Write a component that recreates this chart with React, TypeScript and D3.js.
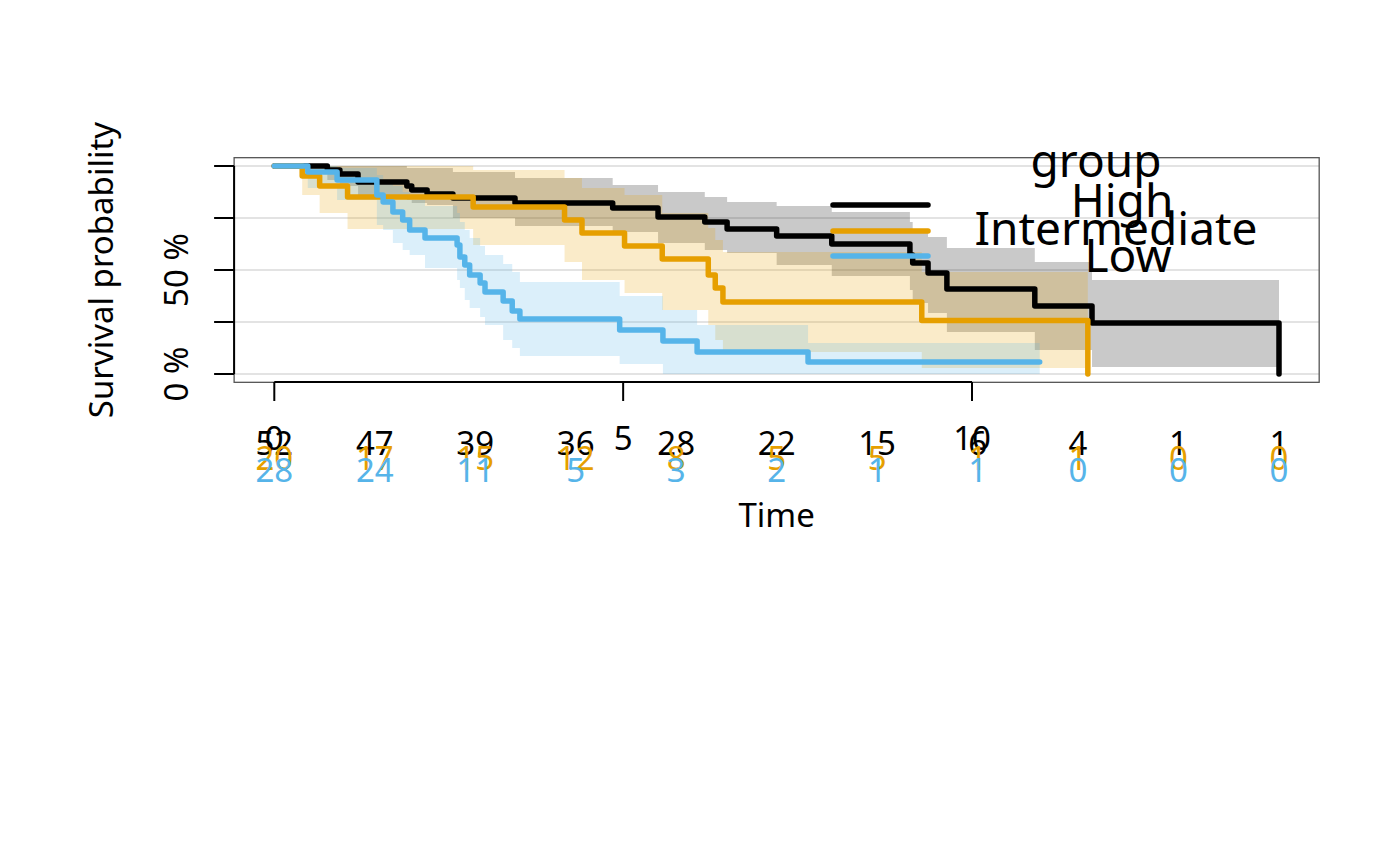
import { useEffect, useRef } from "react";
import * as d3 from "d3";

const groupNames = ["High", "Intermediate", "Low"];
const groupColors = ["#000000", "#E69F00", "#56B4E9"];

const highTime = [0, 0.76, 0.94, 1.2, 1.9, 1.97, 2.19, 2.56, 3.45, 4.85, 5.5, 6.17, 6.49, 7.2, 7.99, 9.11, 9.15, 9.37, 9.64, 10.9, 11.72, 14.4];
const highSurv = [1, 0.981, 0.962, 0.923, 0.904, 0.885, 0.865, 0.846, 0.822, 0.798, 0.755, 0.731, 0.697, 0.663, 0.625, 0.572, 0.534, 0.486, 0.409, 0.327, 0.245, 0];
const highUpper = [1, 1, 1, 1, 0.99, 0.99, 0.99, 0.971, 0.942, 0.909, 0.875, 0.851, 0.827, 0.808, 0.779, 0.731, 0.692, 0.659, 0.606, 0.538, 0.452, 0.452];
const highLower = [1, 0.933, 0.904, 0.861, 0.837, 0.822, 0.812, 0.75, 0.712, 0.683, 0.63, 0.596, 0.582, 0.524, 0.471, 0.404, 0.341, 0.293, 0.202, 0.115, 0.034, 0.034];

const midTime = [0, 0.4, 0.65, 1.05, 2.85, 4.16, 4.41, 5.02, 5.56, 6.22, 6.32, 6.43, 9.28, 11.66];
const midSurv = [1, 0.952, 0.904, 0.851, 0.803, 0.74, 0.678, 0.615, 0.553, 0.476, 0.413, 0.346, 0.257, 0];
const midUpper = [1, 1, 1, 1, 0.981, 0.942, 0.894, 0.861, 0.774, 0.702, 0.644, 0.587, 0.49, 0.49];
const midLower = [1, 0.861, 0.774, 0.697, 0.62, 0.538, 0.452, 0.389, 0.308, 0.236, 0.163, 0.106, 0.029, 0.029];

const lowTime = [0, 0.48, 0.9, 1.47, 1.56, 1.7, 1.84, 1.94, 2.16, 2.62, 2.66, 2.73, 2.8, 2.95, 3.02, 3.28, 3.41, 3.52, 4.95, 5.57, 6.06, 7.65, 10.97];
const lowSurv = [1, 0.971, 0.933, 0.861, 0.827, 0.779, 0.74, 0.692, 0.654, 0.62, 0.563, 0.524, 0.476, 0.438, 0.394, 0.351, 0.303, 0.264, 0.212, 0.159, 0.106, 0.058, 0.058];
const lowUpper = [1, 1, 0.99, 0.957, 0.933, 0.904, 0.875, 0.837, 0.808, 0.774, 0.731, 0.692, 0.654, 0.615, 0.572, 0.529, 0.49, 0.442, 0.375, 0.308, 0.236, 0.149, 0.149];
const lowLower = [1, 0.894, 0.837, 0.716, 0.692, 0.63, 0.596, 0.572, 0.51, 0.452, 0.413, 0.356, 0.317, 0.274, 0.236, 0.163, 0.125, 0.087, 0.048, 0, 0, 0, 0];

const riskTimes = [0, 1.44, 2.88, 4.32, 5.76, 7.2, 8.64, 10.08, 11.52, 12.96, 14.4];
const riskHigh = [52, 47, 39, 36, 28, 22, 15, 6, 4, 1, 1];
const riskMid = [20, 17, 15, 12, 8, 5, 5, 1, 1, 0, 0];
const riskLow = [28, 24, 11, 5, 3, 2, 1, 1, 0, 0, 0];

const xTicks = [0, 5, 10];
const yTicks = [0, 0.25, 0.5, 0.75, 1];
const yLabelValues = [0, 0.5];
const yLabelText = ["0 %", "50 %"];

const FONT = "'Noto Sans', sans-serif";

const App = () => {
  const ref = useRef<SVGSVGElement | null>(null);

  useEffect(() => {
    if (!ref.current) return;
    const svg = d3.select(ref.current);
    svg.selectAll("*").remove();

    const x = d3.scaleLinear().domain([0, 14.4]).range([274.3, 1279]);
    const y = d3.scaleLinear().domain([0, 1]).range([374, 166]);

    const left = x(-0.576);
    const right = x(14.976);
    const top = y(1.04);
    const bottom = y(-0.04);

    svg.append("rect").attr("width", 1400).attr("height", 866).attr("fill", "white");

    // grid
    svg
      .append("g")
      .selectAll("line")
      .data(yTicks)
      .join("line")
      .attr("x1", left)
      .attr("x2", right)
      .attr("y1", (d) => y(d))
      .attr("y2", (d) => y(d))
      .attr("stroke", "#e3e3e3")
      .attr("stroke-width", 2);

    const groups = [
      { time: highTime, surv: highSurv, upper: highUpper, lower: highLower, risk: riskHigh },
      { time: midTime, surv: midSurv, upper: midUpper, lower: midLower, risk: riskMid },
      { time: lowTime, surv: lowSurv, upper: lowUpper, lower: lowLower, risk: riskLow },
    ];

    // confidence bands
    groups.forEach((g, gi) => {
      const pts = g.time.map((t, i) => ({ t, lo: g.lower[i], hi: g.upper[i] }));
      const area = d3
        .area<{ t: number; lo: number; hi: number }>()
        .curve(d3.curveStepAfter)
        .x((d) => x(d.t))
        .y0((d) => y(d.lo))
        .y1((d) => y(d.hi));
      svg
        .append("path")
        .attr("d", area(pts))
        .attr("fill", groupColors[gi])
        .attr("fill-opacity", 0.21);
    });

    // survival curves
    groups.forEach((g, gi) => {
      const pts = g.time.map((t, i) => [t, g.surv[i]] as [number, number]);
      const line = d3
        .line<[number, number]>()
        .curve(d3.curveStepAfter)
        .x((d) => x(d[0]))
        .y((d) => y(d[1]));
      svg
        .append("path")
        .attr("d", line(pts))
        .attr("fill", "none")
        .attr("stroke", groupColors[gi])
        .attr("stroke-width", 5.5)
        .attr("stroke-linejoin", "round")
        .attr("stroke-linecap", "round");
    });

    // box
    svg
      .append("rect")
      .attr("x", left)
      .attr("y", top)
      .attr("width", right - left)
      .attr("height", bottom - top)
      .attr("fill", "none")
      .attr("stroke", "#555")
      .attr("stroke-width", 1.3);

    // y axis
    const ya = svg.append("g");
    ya.append("line")
      .attr("x1", left)
      .attr("x2", left)
      .attr("y1", y(0))
      .attr("y2", y(1))
      .attr("stroke", "black")
      .attr("stroke-width", 2);
    ya.selectAll(".tick")
      .data(yTicks)
      .join("line")
      .attr("x1", left - 20)
      .attr("x2", left)
      .attr("y1", (d) => y(d))
      .attr("y2", (d) => y(d))
      .attr("stroke", "black")
      .attr("stroke-width", 2);
    ya.selectAll("text")
      .data(yLabelValues)
      .join("text")
      .attr("transform", (d) => `translate(188,${y(d)}) rotate(-90)`)
      .attr("text-anchor", "middle")
      .attr("font-family", FONT)
      .attr("font-size", 33)
      .text((d, i) => yLabelText[i]);

    svg
      .append("text")
      .attr("transform", `translate(113,${(top + bottom) / 2}) rotate(-90)`)
      .attr("text-anchor", "middle")
      .attr("font-family", FONT)
      .attr("font-size", 33)
      .text("Survival probability");

    // x axis
    const xa = svg.append("g");
    xa.append("line")
      .attr("x1", x(0))
      .attr("x2", x(10))
      .attr("y1", 382)
      .attr("y2", 382)
      .attr("stroke", "black")
      .attr("stroke-width", 2);
    xa.selectAll(".tick")
      .data(xTicks)
      .join("line")
      .attr("x1", (d) => x(d))
      .attr("x2", (d) => x(d))
      .attr("y1", 382)
      .attr("y2", 401)
      .attr("stroke", "black")
      .attr("stroke-width", 2);
    xa.selectAll("text")
      .data(xTicks)
      .join("text")
      .attr("x", (d) => x(d))
      .attr("y", 450)
      .attr("text-anchor", "middle")
      .attr("font-family", FONT)
      .attr("font-size", 33)
      .text((d) => d);

    svg
      .append("text")
      .attr("x", (left + right) / 2)
      .attr("y", 527)
      .attr("text-anchor", "middle")
      .attr("font-family", FONT)
      .attr("font-size", 33)
      .text("Time");

    // numbers at risk
    const rowY = [455, 470, 482];
    groups.forEach((g, gi) => {
      svg
        .append("g")
        .selectAll("text")
        .data(g.risk)
        .join("text")
        .attr("x", (d, i) => x(riskTimes[i]))
        .attr("y", rowY[gi])
        .attr("text-anchor", "middle")
        .attr("font-family", FONT)
        .attr("font-size", 33)
        .attr("fill", groupColors[gi])
        .text((d) => d);
    });

    // legend
    const lg = svg.append("g");
    const legendY = [205, 231, 256];
    lg.selectAll("line")
      .data(groupNames)
      .join("line")
      .attr("x1", 833)
      .attr("x2", 928)
      .attr("y1", (d, i) => legendY[i])
      .attr("y2", (d, i) => legendY[i])
      .attr("stroke", (d, i) => groupColors[i])
      .attr("stroke-width", 5.5)
      .attr("stroke-linecap", "round");
    lg.append("text")
      .attr("x", 1096)
      .attr("y", 177)
      .attr("text-anchor", "middle")
      .attr("font-family", FONT)
      .attr("font-size", 46)
      .text("group");
    const textX = [1122, 1116, 1128];
    const textY = [217, 245, 272];
    lg.selectAll(".lbl")
      .data(groupNames)
      .join("text")
      .attr("x", (d, i) => textX[i])
      .attr("y", (d, i) => textY[i])
      .attr("text-anchor", "middle")
      .attr("font-family", FONT)
      .attr("font-size", 46)
      .text((d) => d);
  }, []);

  return (
    <svg
      ref={ref}
      width={1400}
      height={866}
      style={{ position: "absolute", left: 0, top: 0 }}
    ></svg>
  );
};

export default App;
